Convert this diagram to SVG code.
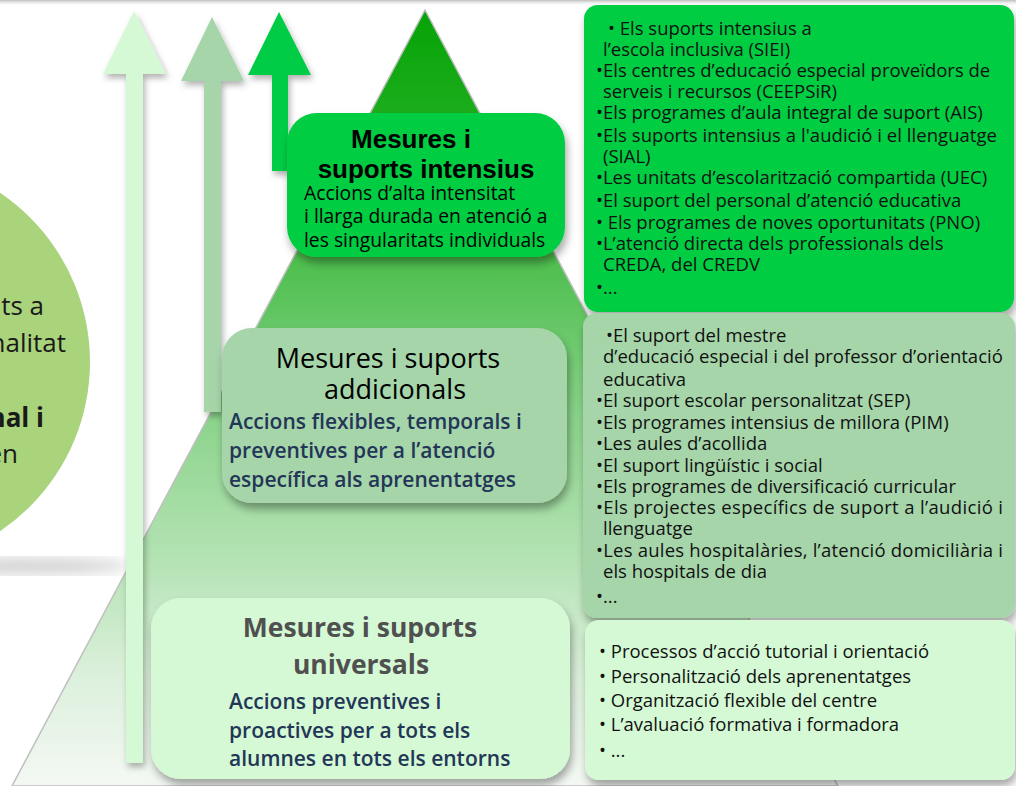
<svg xmlns="http://www.w3.org/2000/svg" width="1016" height="786" viewBox="0 0 1016 786">
<defs>
<linearGradient id="pyr" x1="0" y1="10" x2="0" y2="786" gradientUnits="userSpaceOnUse">
<stop offset="0" stop-color="#05a305"/>
<stop offset="0.15" stop-color="#1fae1f"/>
<stop offset="0.38" stop-color="#5ec45e"/>
<stop offset="0.52" stop-color="#8ad38a"/>
<stop offset="0.7" stop-color="#b2e2b2"/>
<stop offset="0.86" stop-color="#dcf0dc"/>
<stop offset="1" stop-color="#f4f8f4"/>
</linearGradient>
<linearGradient id="topband" x1="0" y1="0" x2="0" y2="1">
<stop offset="0" stop-color="#bdbdbd"/>
<stop offset="1" stop-color="#ffffff" stop-opacity="0"/>
</linearGradient>
<filter id="sh" x="-10%" y="-10%" width="130%" height="140%">
<feDropShadow dx="2" dy="6" stdDeviation="4" flood-color="#000" flood-opacity="0.35"/>
</filter>
<filter id="ash" x="-30%" y="-10%" width="160%" height="130%">
<feDropShadow dx="2" dy="4" stdDeviation="3" flood-color="#000" flood-opacity="0.3"/>
</filter>
<filter id="blur"><feGaussianBlur stdDeviation="7"/></filter>
<style>
.os{font-family:"Open Sans","Noto Sans","DejaVu Sans",sans-serif;}
.li{font-size:18.5px;fill:#111;}
.sub{font-size:21px;font-weight:600;fill:#233657;}
</style>
</defs>
<rect width="1016" height="786" fill="#ffffff"/>
<rect width="1016" height="6" fill="url(#topband)"/>

<g id="circle">
<ellipse cx="20" cy="566" rx="110" ry="8" fill="#000" opacity="0.18" filter="url(#blur)"/>
<circle cx="-114" cy="362" r="204" fill="#a9d47b"/>
<g class="os" font-size="26" fill="#1a1a1a" text-anchor="end">
<text x="44" y="315">ts a</text>
<text x="66" y="352">nalitat</text>
<text x="44" y="427" font-weight="700">nal i</text>
<text x="18" y="463">en</text>
</g>
</g>

<g id="pyramid">
<polygon points="425,10 838,786 12,786" fill="url(#pyr)" stroke="#bfbfbf" stroke-width="1.5"/>
</g>

<g id="connectors">
<polygon id="arrow-universal" points="134,11 166,74 143,74 143,763 126,763 126,74 103,74" fill="#d5f9d5" filter="url(#ash)"/>
<polygon id="arrow-addicional" points="212,17 244,81 221,81 221,412 204,412 204,81 181,81" fill="#a6d5a9" filter="url(#ash)"/>
<polygon id="arrow-intensiu" points="279,12 311,75 288,75 288,171 272,171 272,75 248,75" fill="#00cc44" filter="url(#ash)"/>
</g>

<g id="node-intensius">
<rect x="287" y="113" width="278" height="144" rx="30" fill="#00cd42" filter="url(#sh)"/>
<g font-family="'Liberation Sans',Arial,sans-serif" font-weight="700" font-size="26" fill="#000" text-anchor="middle">
<text x="411" y="148">Mesures i</text>
<text x="426" y="178">suports intensius</text>
</g>
<g class="os" font-size="19.3" font-weight="500" fill="#000">
<text x="304" y="200">Accions d’alta intensitat</text>
<text x="304" y="223">i llarga durada en atenció a</text>
<text x="304" y="247">les singularitats individuals</text>
</g>
</g>

<g id="node-addicionals">
<rect x="222" y="328" width="345" height="175" rx="30" fill="#a6d5aa" filter="url(#sh)"/>
<g class="os" font-size="27" font-weight="500" fill="#000" text-anchor="middle">
<text x="388" y="368">Mesures i suports</text>
<text x="395" y="399">addicionals</text>
</g>
<g class="os sub">
<text x="229" y="429">Accions flexibles, temporals i</text>
<text x="229" y="458">preventives per a l’atenció</text>
<text x="229" y="487">específica als aprenentatges</text>
</g>
</g>

<g id="node-universals">
<rect x="151" y="598" width="419" height="181" rx="30" fill="#d5f9d5" filter="url(#sh)"/>
<g class="os" font-size="26.5" font-weight="700" fill="#505050" text-anchor="middle">
<text x="360" y="637">Mesures i suports</text>
<text x="361" y="674">universals</text>
</g>
<g class="os sub">
<text x="229" y="709">Accions preventives i</text>
<text x="229" y="738">proactives per a tots els</text>
<text x="229" y="766">alumnes en tots els entorns</text>
</g>
</g>

<g id="list-intensius">
<rect x="584" y="5" width="430" height="307" rx="14" fill="#00cd42" filter="url(#sh)"/>
<g class="os li">
<text x="608" y="35">• Els suports intensius a</text>
<text x="603" y="56">l’escola inclusiva (SIEI)</text>
<text x="596" y="77">•Els centres d’educació especial proveïdors de</text>
<text x="603" y="98">serveis i recursos (CEEPSiR)</text>
<text x="596" y="119">•Els programes d’aula integral de suport (AIS)</text>
<text x="596" y="142" textLength="401" lengthAdjust="spacing">•Els suports intensius a l'audició i el llenguatge</text>
<text x="603" y="163">(SIAL)</text>
<text x="596" y="184">•Les unitats d’escolarització compartida (UEC)</text>
<text x="596" y="207">•El suport del personal d’atenció educativa</text>
<text x="596" y="229">• Els programes de noves oportunitats (PNO)</text>
<text x="596" y="250">•L’atenció directa dels professionals dels</text>
<text x="603" y="271">CREDA, del CREDV</text>
<text x="596" y="294">•...</text>
</g>
</g>

<g id="list-addicionals">
<rect x="583" y="313" width="432" height="305" rx="14" fill="#a6d5aa" filter="url(#sh)"/>
<g class="os li">
<text x="606" y="342">•El suport del mestre</text>
<text x="603" y="363">d’educació especial i del professor d’orientació</text>
<text x="603" y="386">educativa</text>
<text x="596" y="407">•El suport escolar personalitzat (SEP)</text>
<text x="596" y="429">•Els programes intensius de millora (PIM)</text>
<text x="596" y="450">•Les aules d’acollida</text>
<text x="596" y="472">•El suport lingüístic i social</text>
<text x="596" y="493">•Els programes de diversificació curricular</text>
<text x="596" y="514" textLength="407" lengthAdjust="spacing">•Els projectes específics de suport a l’audició i</text>
<text x="603" y="535">llenguatge</text>
<text x="596" y="557" textLength="407" lengthAdjust="spacing">•Les aules hospitalàries, l’atenció domiciliària i</text>
<text x="603" y="578">els hospitals de dia</text>
<text x="596" y="603">•...</text>
</g>
</g>

<g id="list-universals">
<rect x="585" y="620" width="430" height="160" rx="14" fill="#d5f9d5" filter="url(#sh)"/>
<g class="os li">
<text x="599" y="658">• Processos d’acció tutorial i orientació</text>
<text x="599" y="683">• Personalització dels aprenentatges</text>
<text x="599" y="707">• Organització flexible del centre</text>
<text x="599" y="731">• L’avaluació formativa i formadora</text>
<text x="599" y="757">• ...</text>
</g>
</g>
</svg>
